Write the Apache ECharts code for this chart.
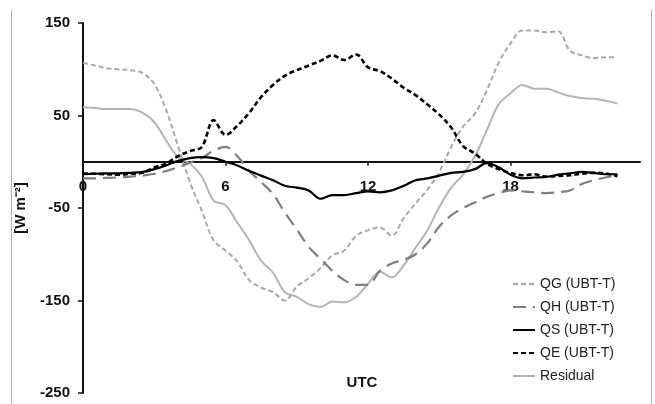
<!DOCTYPE html>
<html>
<head>
<meta charset="utf-8">
<script src="https://cdn.jsdelivr.net/npm/echarts@6/dist/echarts.min.js"></script>
<style>
  html, body { margin: 0; padding: 0; background: #fff; }
  #chart { width: 655px; height: 404px; }
</style>
</head>
<body>
<div id="chart"></div>
<script>
// hours (UTC), half-hourly
const hours = [0, 0.5, 1, 1.5, 2, 2.5, 3, 3.5, 4, 4.5, 5, 5.5, 6, 6.5, 7, 7.5, 8, 8.5, 9, 9.5,
  10, 10.5, 11, 11.5, 12, 12.5, 13, 13.5, 14, 14.5, 15, 15.5, 16, 16.5, 17, 17.5, 18, 18.5, 19, 19.5,
  20, 20.5, 21, 21.5, 22, 22.5]

const qg = [107, 104, 101, 100, 99, 96, 84, 56, 17, -22, -53, -85, -96, -108, -128, -136, -141, -150, -135, -126,
  -115, -101, -96, -80, -74, -71, -80, -61, -45, -30, -11, 16, 38, 52, 77, 107, 128, 142, 142, 140,
  141, 120, 115, 112, 113, 113]
const qh = [-18, -18, -17.5, -17, -16, -15, -13, -10, -6, -1, 4, 12, 16, 6, -10, -22, -35, -55, -73, -92,
  -105, -118, -128, -133, -133, -118, -110, -106, -100, -88, -70, -58, -50, -44, -38, -34, -31, -32, -33, -34,
  -33, -31, -24, -20, -17, -15]
const qs = [-13.5, -13, -12.5, -12.5, -12, -11, -8, -4, 1, 4, 5, 4, 0, -4, -10, -15, -20, -26, -28, -31,
  -40, -36, -36, -34, -32, -33, -31, -26, -20, -18, -15, -12, -11, -8, -1.5, -6, -14, -18, -17, -16.5,
  -14, -12.5, -11, -12, -13.5, -13.5]
const qe = [-12.7, -13, -13.5, -14, -13, -12, -6, -2, 6, 11.5, 16, 45, 29, 39, 53, 70, 83, 93, 99, 104,
  109, 115, 110, 116, 102, 98, 90, 80, 72, 62, 51, 37, 17, 9, -2, -8, -12, -14.6, -13.5, -16,
  -15.5, -14.6, -13, -12, -12.7, -15.6]
const residual = [59, 58, 57, 57, 57, 53, 43, 23, 5, -2, -16, -42, -47, -66, -85, -107, -120, -141, -146, -154,
  -157, -151, -152, -146, -132, -119, -125, -112, -93, -74, -49, -28, -14, 6, 34, 62, 74, 83, 79, 79,
  75, 71, 69, 68, 66, 63]

const xTicks = [0, 6, 12, 18]
const yTicks = [-250, -150, -50, 50, 150]

const names = ['QG (UBT-T)', 'QH (UBT-T)', 'QS (UBT-T)', 'QE (UBT-T)', 'Residual']

const font = 'Liberation Sans'

function pairs (vals) {
  return hours.map((h, i) => [h, vals[i]])
}

const myChart = echarts.init(document.getElementById('chart'))

const option = {
  animation: false,
  backgroundColor: '#fff',
  textStyle: { fontFamily: font },
  grid: {
    left: 83,
    right: 15,
    top: 23,
    bottom: 11,
    outerBoundsMode: 'none'
  },
  graphic: [
    { type: 'line', shape: { x1: 11.5, y1: 10, x2: 11.5, y2: 404 }, style: { stroke: '#b0b0b0', lineWidth: 1 } },
    { type: 'line', shape: { x1: 651.5, y1: 10, x2: 651.5, y2: 404 }, style: { stroke: '#b0b0b0', lineWidth: 1 } },
    {
      type: 'text',
      x: 362,
      y: 383,
      style: {
        text: 'UTC',
        font: 'bold 15px "Liberation Sans"',
        fill: '#111',
        align: 'center',
        verticalAlign: 'middle'
      }
    }
  ],
  legend: {
    orient: 'vertical',
    left: 507,
    top: 272,
    itemWidth: 22,
    itemHeight: 14,
    itemGap: 9,
    itemStyle: { opacity: 0 },
    textStyle: { fontFamily: font, fontSize: 14, color: '#222' },
    data: names
  },
  xAxis: {
    type: 'value',
    min: 0,
    max: 23.45,
    axisLine: { onZero: true, lineStyle: { color: '#111', width: 2 } },
    axisTick: { show: true, length: 4, customValues: xTicks, lineStyle: { color: '#111', width: 1.5 } },
    axisLabel: {
      customValues: xTicks,
      margin: -214,
      fontFamily: font,
      fontSize: 15,
      fontWeight: 'bold',
      color: '#111'
    },
    splitLine: { show: false }
  },
  yAxis: {
    type: 'value',
    min: -250,
    max: 150,
    name: '[W m⁻²]',
    nameLocation: 'middle',
    nameRotate: 90,
    nameGap: 55,
    nameTextStyle: { fontFamily: font, fontSize: 15, fontWeight: 'bold', color: '#111' },
    axisLine: { show: true, lineStyle: { color: '#111', width: 2 } },
    axisTick: { show: true, length: 5, customValues: yTicks, lineStyle: { color: '#111', width: 1.5 } },
    axisLabel: {
      customValues: yTicks,
      margin: 13,
      fontFamily: font,
      fontSize: 15,
      fontWeight: 'bold',
      color: '#111'
    },
    splitLine: { show: false }
  },
  series: [
    {
      name: names[0],
      type: 'line',
      symbol: 'none',
      smooth: 0.35,
      data: pairs(qg),
      lineStyle: { color: '#a9a9a9', width: 2, type: [5, 3] },
      itemStyle: { color: '#a9a9a9' },
      z: 2
    },
    {
      name: names[1],
      type: 'line',
      symbol: 'none',
      smooth: 0.35,
      data: pairs(qh),
      lineStyle: { color: '#7f7f7f', width: 2.2, type: [13, 7] },
      itemStyle: { color: '#7f7f7f' },
      z: 3
    },
    {
      name: names[2],
      type: 'line',
      symbol: 'none',
      smooth: 0.35,
      data: pairs(qs),
      lineStyle: { color: '#000', width: 2.2 },
      itemStyle: { color: '#000' },
      z: 5
    },
    {
      name: names[3],
      type: 'line',
      symbol: 'none',
      smooth: 0.35,
      data: pairs(qe),
      lineStyle: { color: '#000', width: 2.6, type: [5, 3] },
      itemStyle: { color: '#000' },
      z: 4
    },
    {
      name: names[4],
      type: 'line',
      symbol: 'none',
      smooth: 0.35,
      data: pairs(residual),
      lineStyle: { color: '#b5b5b5', width: 2 },
      itemStyle: { color: '#b5b5b5' },
      z: 1
    }
  ]
}

myChart.setOption(option)
</script>
</body>
</html>
